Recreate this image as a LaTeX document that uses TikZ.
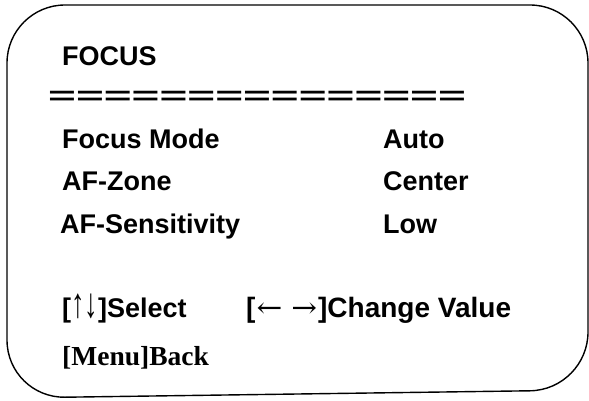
\documentclass[tikz,border=0pt]{standalone}
\usepackage{fontspec}
\setmainfont{Liberation Sans}
\newfontfamily\seriffont{Liberation Serif}
\newfontfamily\arrowfont{DejaVu Serif}
\newcommand{\harr}[1]{{\arrowfont\mdseries\scalebox{1.1}[1]{#1}}}
\newcommand{\varr}[1]{{\seriffont\mdseries\scalebox{1}[1.55]{#1}}}
\tikzset{
  txt/.style={anchor=base west, inner sep=0pt, font=\fontsize{27}{30}\selectfont\bfseries},
  frame/.style={draw=black, line width=1.4pt, rounded corners=58pt}
}
\begin{document}
\begin{tikzpicture}[x=1pt,y=-1pt]
\useasboundingbox (0,0) rectangle (589,401);
\draw[frame] (7,5) -- (588,5) -- (588,390) -- (7,398) -- cycle;
\node[txt] (title) at (62,66) {FOCUS};
\node[txt, font=\fontsize{25.5}{30}\selectfont\bfseries] (sep) at (48,105) {\scalebox{1.87}[1]{===============}};
\node[txt] (fm) at (62,149) {Focus Mode};
\node[txt] (fmv) at (383,149) {Auto};
\node[txt] (az) at (62,190) {AF-Zone};
\node[txt] (azv) at (383,190) {Center};
\node[txt] (as) at (60,233) {AF-Sensitivity};
\node[txt] (asv) at (383,233) {Low};
\node[txt] (sel) at (62,317) {[\varr{↑}\varr{↓}]Select};
\node[txt, font=\fontsize{28}{30}\selectfont\bfseries] (chg) at (246,317) {[\hspace{1pt}\harr{←}\hspace{9pt}\harr{→}\hspace{1pt}]Change Value};
\node[txt, font=\fontsize{27.5}{30}\selectfont\seriffont\bfseries] (back) at (62,365) {[Menu]Back};
\end{tikzpicture}
\end{document}
